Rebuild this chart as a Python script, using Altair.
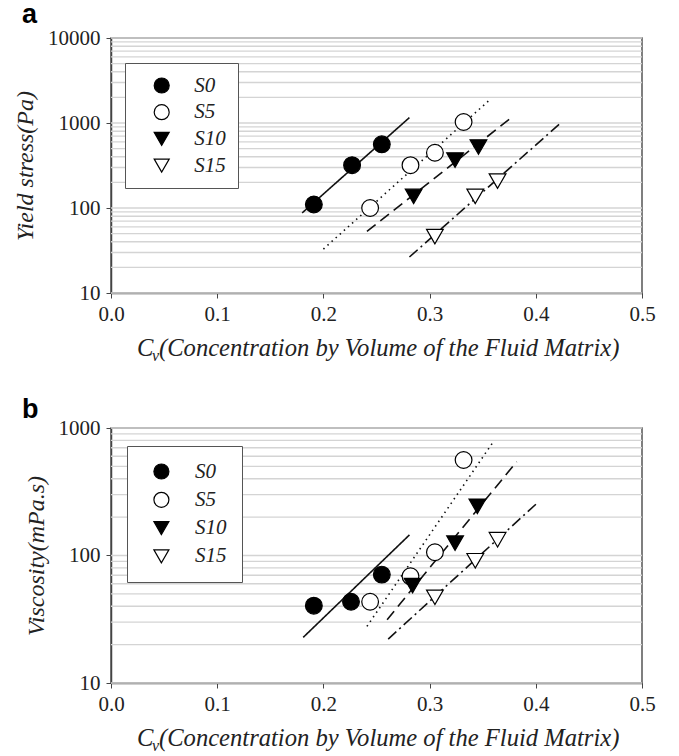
import altair as alt
import pandas as pd

series_names = ["S0", "S5", "S10", "S15"]
shape_range = ["circle", "circle", "triangle-down", "triangle-down"]
fill_range = ["black", "white", "black", "white"]
dash_range = [[1, 0], [1.5, 4], [11, 6], [11, 4, 2, 4]]

x_ticks = [0.0, 0.1, 0.2, 0.3, 0.4, 0.5]

# ---------- Panel a : yield stress (Pa) ----------
a_x = {
    "S0": [0.191, 0.227, 0.255],
    "S5": [0.244, 0.282, 0.305, 0.332],
    "S10": [0.285, 0.324, 0.346],
    "S15": [0.305, 0.343, 0.364],
}
a_y = {
    "S0": [110, 319, 561],
    "S5": [100, 319, 447, 1028],
    "S10": [137, 366, 521],
    "S15": [46, 137, 207],
}
a_line_x = {
    "S0": [0.180, 0.281],
    "S5": [0.200, 0.358],
    "S10": [0.241, 0.379],
    "S15": [0.281, 0.422],
}
a_line_y = {
    "S0": [87.5, 1158],
    "S5": [32.9, 1941],
    "S10": [53, 1210],
    "S15": [26.5, 966],
}
a_ticks = [10, 100, 1000, 10000]
a_grid = [10, 20, 30, 40, 50, 60, 70, 80, 90,
          100, 200, 300, 400, 500, 600, 700, 800, 900,
          1000, 2000, 3000, 4000, 5000, 6000, 7000, 8000, 9000, 10000]

# ---------- Panel b : viscosity (mPa.s) ----------
b_x = {
    "S0": [0.191, 0.226, 0.255],
    "S5": [0.244, 0.282, 0.305, 0.332],
    "S10": [0.284, 0.324, 0.345],
    "S15": [0.305, 0.343, 0.364],
}
b_y = {
    "S0": [40.4, 43.4, 70.8],
    "S5": [43.4, 68.7, 106, 561],
    "S10": [58, 125, 243],
    "S15": [47, 91, 133],
}
b_line_x = {
    "S0": [0.181, 0.281],
    "S5": [0.241, 0.359],
    "S10": [0.260, 0.382],
    "S15": [0.261, 0.402],
}
b_line_y = {
    "S0": [22.8, 145],
    "S5": [27.8, 759],
    "S10": [31.4, 544],
    "S15": [22.1, 261],
}
b_ticks = [10, 100, 1000]
b_grid = [10, 20, 30, 40, 50, 60, 70, 80, 90,
          100, 200, 300, 400, 500, 600, 700, 800, 900, 1000]

SERIF = "Liberation Serif"
SANS = "Liberation Sans"
PW, PH = 531, 255
NBSP = "\u00a0" * 8


def frame(xd, yd, key="series"):
    rows = []
    for s in series_names:
        for xv, yv in zip(xd[s], yd[s]):
            rows.append({key: s, "x": xv, "y": yv})
    return pd.DataFrame(rows)


def one(**kw):
    return pd.DataFrame([kw])


def panel(xd, yd, lxd, lyd, ticks, grid_vals, ytitle, letter, letter_y, lg):
    xs = alt.Scale(domain=[0, 0.5], nice=False, zero=False)
    ys = alt.Scale(type="log", domain=[ticks[0], ticks[-1]], nice=False)
    xaxis = alt.Axis(
        values=x_ticks, format=".1f", title=None, grid=False,
        labelFont=SERIF, labelFontSize=21, labelColor="#222",
        tickSize=5, tickColor="#444", domainColor="#444", domainWidth=1.5,
        labelPadding=5, labelFlush=False)
    yaxis = alt.Axis(
        values=ticks, format="d", title=ytitle, grid=False,
        labelFont=SERIF, labelFontSize=21, labelColor="#222",
        tickSize=5, tickColor="#444", domainColor="#444", domainWidth=1.5,
        labelPadding=6, labelFlush=False,
        titleFont=SERIF, titleFontSize=24, titleFontStyle="italic",
        titleFontWeight="normal", titleColor="#222", titlePadding=10)
    xenc = alt.X("x:Q", scale=xs, axis=xaxis)
    yenc = alt.Y("y:Q", scale=ys, axis=yaxis)

    grid = alt.Chart(pd.DataFrame({"y": grid_vals})).mark_rule(
        color="#d4d4d4", strokeWidth=1.4).encode(y=yenc)

    # data-driven domain (sorted) so it is not merged with the symbol legend
    lines = alt.Chart(frame(lxd, lyd, key="fit")).mark_line(
        color="#111", strokeWidth=1.6).encode(
        x=xenc, y=yenc,
        strokeDash=alt.StrokeDash("fit:N", sort=series_names,
                                  scale=alt.Scale(range=dash_range), legend=None))

    leg = alt.Legend(
        title=None, orient="none", legendX=lg["x"], legendY=lg["y"],
        padding=lg["pad"], fillColor="white", strokeColor="#555",
        symbolOffset=lg["soff"],
        labelFont=SERIF, labelFontStyle="italic", labelFontSize=21,
        labelColor="#222", labelOffset=lg["loff"], symbolSize=225,
        labelExpr="datum.label + '" + NBSP + "'",
        symbolStrokeWidth=1.2,
        rowPadding=lg["rp"], zindex=3)

    points = alt.Chart(frame(xd, yd)).mark_point(
        filled=True, size=280, stroke="black", strokeWidth=1.2, opacity=1).encode(
        x=xenc, y=yenc,
        shape=alt.Shape("series:N", scale=alt.Scale(
            domain=series_names, range=shape_range), legend=leg),
        fill=alt.Fill("series:N", scale=alt.Scale(
            domain=series_names, range=fill_range), legend=leg))

    lbl = alt.Chart(one(t=letter)).mark_text(
        font=SANS, fontWeight="bold", fontSize=27, align="left",
        baseline="top", color="black").encode(
        text="t:N", x=alt.value(-89), y=alt.value(letter_y))

    tb = PH + 63
    t1 = alt.Chart(one(t="C")).mark_text(
        font=SERIF, fontStyle="italic", fontSize=24.6, align="left",
        baseline="alphabetic", color="#222").encode(
        text="t:N", x=alt.value(26), y=alt.value(tb))
    t2 = alt.Chart(one(t="v")).mark_text(
        font=SERIF, fontStyle="italic", fontSize=16, align="left",
        baseline="alphabetic", color="#222").encode(
        text="t:N", x=alt.value(41), y=alt.value(tb + 5))
    t3 = alt.Chart(one(t="(Concentration by Volume of the Fluid Matrix)")).mark_text(
        font=SERIF, fontStyle="italic", fontSize=24.6, align="left",
        baseline="alphabetic", color="#222").encode(
        text="t:N", x=alt.value(48), y=alt.value(tb))

    return alt.layer(grid, lines, points, lbl, t1, t2, t3).properties(
        width=PW, height=PH)


pa = panel(a_x, a_y, a_line_x, a_line_y, a_ticks, a_grid, "Yield stress(Pa)",
           "a", -36,
           {"x": 14, "y": 25, "pad": 12, "soff": 14.2, "loff": 22, "rp": 4.7})
pb = panel(b_x, b_y, b_line_x, b_line_y, b_ticks, b_grid, "Viscosity(mPa.s)",
           "b", -31,
           {"x": 16, "y": 18, "pad": 15, "soff": 8.9, "loff": 23.1, "rp": 6.3})

chart = alt.vconcat(pa, pb, spacing=135, bounds="flush").resolve_scale(
    shape="independent", fill="independent", strokeDash="independent"
).resolve_legend(
    shape="independent", fill="independent"
).properties(
    padding={"left": 12, "top": 0, "right": 5, "bottom": 5},
    background="white",
).configure_view(stroke="#555", strokeWidth=1.5)

chart.save("out.html", embed_options={"renderer": "svg", "actions": False})
